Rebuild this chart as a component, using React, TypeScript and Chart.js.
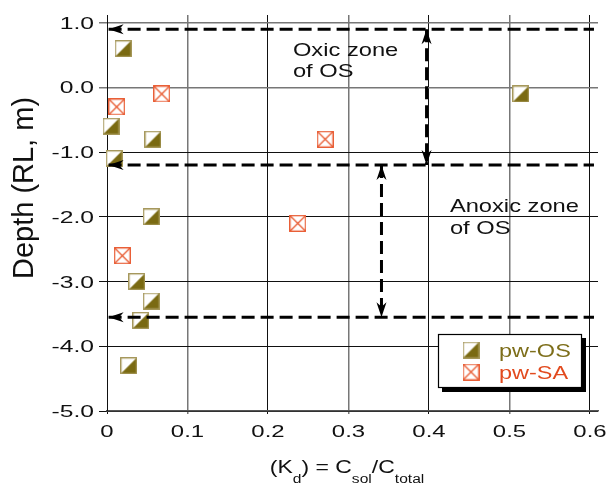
import React, { useEffect, useRef } from "react";
import { Chart, registerables } from "chart.js";

Chart.register(...registerables);

// ---- data ----
const xTicks = [0, 0.1, 0.2, 0.3, 0.4, 0.5, 0.6];
const xTickLabels = ["0", "0.1", "0.2", "0.3", "0.4", "0.5", "0.6"];
const yTicks = [1, 0, -1, -2, -3, -4, -5];
const yTickLabels = ["1.0", "0.0", "-1.0", "-2.0", "-3.0", "-4.0", "-5.0"];

const osX = [0.02, 0.005, 0.057, 0.009, 0.055, 0.037, 0.055, 0.042, 0.027, 0.514];
const osY = [0.6, -0.6, -0.8, -1.1, -2.0, -3.0, -3.3, -3.6, -4.3, -0.1];
const saX = [0.012, 0.068, 0.271, 0.237, 0.019];
const saY = [-0.3, -0.1, -0.8, -2.1, -2.6];

const seriesLabels = ["pw-OS", "pw-SA"];
const seriesColors = ["#7d6e1a", "#e24a1e"];

const zoneDepths = [0.9, -1.2, -3.55];
const zoneLineStartX = 0.002;
const zoneLineEndX = 0.605;
const oxicArrowX = 0.397;
const anoxicArrowX = 0.341;

const oxicLabel = ["Oxic zone", "of OS"];
const oxicLabelPos = { x: 0.231, y: 0.49 };
const anoxicLabel = ["Anoxic zone", "of OS"];
const anoxicLabelPos = { x: 0.426, y: -1.93 };

const FONT = '"Liberation Sans", Arial, Helvetica, sans-serif';

function makeOsMarker(): HTMLCanvasElement {
  const c = document.createElement("canvas");
  c.width = 17;
  c.height = 17;
  const g = c.getContext("2d")!;
  g.fillStyle = "#ffffff";
  g.fillRect(0, 0, 17, 17);
  g.fillStyle = "#7a6a12";
  g.beginPath();
  g.moveTo(16.5, 0.5);
  g.lineTo(16.5, 16.5);
  g.lineTo(0.5, 16.5);
  g.closePath();
  g.fill();
  g.strokeStyle = "#a39455";
  g.lineWidth = 1.3;
  g.strokeRect(0.7, 0.7, 15.6, 15.6);
  return c;
}

function makeSaMarker(): HTMLCanvasElement {
  const c = document.createElement("canvas");
  c.width = 17;
  c.height = 17;
  const g = c.getContext("2d")!;
  g.fillStyle = "#ffffff";
  g.fillRect(0, 0, 17, 17);
  g.strokeStyle = "#e8582e";
  g.lineWidth = 1.3;
  g.strokeRect(0.7, 0.7, 15.6, 15.6);
  g.beginPath();
  g.moveTo(1, 1);
  g.lineTo(16, 16);
  g.moveTo(16, 1);
  g.lineTo(1, 16);
  g.stroke();
  return c;
}

function drawText(
  ctx: CanvasRenderingContext2D,
  text: string,
  x: number,
  y: number,
  align: CanvasTextAlign,
  size: number,
  sx: number,
  color: string
) {
  ctx.save();
  ctx.font = `${size}px ${FONT}`;
  ctx.fillStyle = color;
  ctx.textAlign = align;
  ctx.textBaseline = "alphabetic";
  ctx.translate(x, y);
  ctx.scale(sx, 1);
  ctx.fillText(text, 0, 0);
  ctx.restore();
}

function drawArrowHead(
  ctx: CanvasRenderingContext2D,
  tx: number,
  ty: number,
  dx: number,
  dy: number
) {
  const L = 15;
  const W = 5;
  const N = 4.5;
  const px = -dy;
  const py = dx;
  ctx.save();
  ctx.fillStyle = "#000";
  ctx.beginPath();
  ctx.moveTo(tx, ty);
  ctx.lineTo(tx - dx * L + px * W, ty - dy * L + py * W);
  ctx.lineTo(tx - dx * (L - N), ty - dy * (L - N));
  ctx.lineTo(tx - dx * L - px * W, ty - dy * L - py * W);
  ctx.closePath();
  ctx.fill();
  ctx.restore();
}

export default function App() {
  const ref = useRef<HTMLCanvasElement | null>(null);

  useEffect(() => {
    document.body.style.margin = "0";
    const canvas = ref.current;
    if (!canvas) return;
    const osImg = makeOsMarker();
    const saImg = makeSaMarker();
    const markerImgs = [osImg, saImg];

    const dashStyle = {
      borderColor: "#000",
      borderWidth: 3,
      borderDash: [13, 6],
      pointRadius: 0,
      showLine: true,
      fill: false,
      type: "line" as const,
      order: 0,
    };

    const zoneDatasets = zoneDepths.map((d) => ({
      ...dashStyle,
      label: "zone",
      data: [
        { x: zoneLineStartX, y: d },
        { x: zoneLineEndX, y: d },
      ],
    }));

    const vertDatasets = [
      {
        ...dashStyle,
        label: "oxic",
        data: [
          { x: oxicArrowX, y: zoneDepths[0] },
          { x: oxicArrowX, y: zoneDepths[1] },
        ],
      },
      {
        ...dashStyle,
        label: "anoxic",
        data: [
          { x: anoxicArrowX, y: zoneDepths[1] },
          { x: anoxicArrowX, y: zoneDepths[2] },
        ],
      },
    ];

    const overlay = {
      id: "overlay",
      afterDatasetsDraw(chart: any) {
        const ctx: CanvasRenderingContext2D = chart.ctx;
        const xs = chart.scales.x;
        const ys = chart.scales.y;
        zoneDepths.forEach((d) => {
          drawArrowHead(ctx, xs.getPixelForValue(zoneLineStartX), ys.getPixelForValue(d), -1, 0);
        });
        drawArrowHead(ctx, xs.getPixelForValue(oxicArrowX), ys.getPixelForValue(zoneDepths[0]), 0, -1);
        drawArrowHead(ctx, xs.getPixelForValue(oxicArrowX), ys.getPixelForValue(zoneDepths[1]), 0, 1);
        drawArrowHead(ctx, xs.getPixelForValue(anoxicArrowX), ys.getPixelForValue(zoneDepths[1]), 0, -1);
        drawArrowHead(ctx, xs.getPixelForValue(anoxicArrowX), ys.getPixelForValue(zoneDepths[2]), 0, 1);
      },
      afterDraw(chart: any) {
        const ctx: CanvasRenderingContext2D = chart.ctx;
        const xs = chart.scales.x;
        const ys = chart.scales.y;

        xs.ticks.forEach((t: any, i: number) => {
          drawText(ctx, xTickLabels[i] ?? String(t.value), xs.getPixelForValue(t.value), 437, "center", 16.5, 1.45, "#111");
        });
        ys.ticks.forEach((t: any, i: number) => {
          drawText(ctx, yTickLabels[i] ?? String(t.value), 94, ys.getPixelForValue(t.value) + 6, "right", 17, 1.45, "#111");
        });

        const ox = xs.getPixelForValue(oxicLabelPos.x);
        const oy = ys.getPixelForValue(oxicLabelPos.y);
        oxicLabel.forEach((s, i) => drawText(ctx, s, ox, oy + i * 21, "left", 18.5, 1.28, "#111"));
        const ax = xs.getPixelForValue(anoxicLabelPos.x);
        const ay = ys.getPixelForValue(anoxicLabelPos.y);
        anoxicLabel.forEach((s, i) => drawText(ctx, s, ax, ay + i * 22, "left", 18.5, 1.28, "#111"));

        ctx.save();
        ctx.font = `29px ${FONT}`;
        ctx.fillStyle = "#111";
        ctx.textAlign = "center";
        ctx.textBaseline = "alphabetic";
        ctx.translate(33, 188);
        ctx.rotate(-Math.PI / 2);
        ctx.fillText("Depth (RL, m)", 0, 0);
        ctx.restore();

        const parts: [string, boolean][] = [
          ["(K", false],
          ["d", true],
          [") = C", false],
          ["sol", true],
          ["/C", false],
          ["total", true],
        ];
        const sx = 1.3;
        const mainSize = 17.7;
        const subSize = 12;
        let total = 0;
        const widths = parts.map(([s, sub]) => {
          ctx.font = `${sub ? subSize : mainSize}px ${FONT}`;
          const w = ctx.measureText(s).width * sx;
          total += w;
          return w;
        });
        let cx = 347 - total / 2;
        parts.forEach(([s, sub], i) => {
          drawText(ctx, s, cx, sub ? 483 : 473, "left", sub ? subSize : mainSize, sx, "#111");
          cx += widths[i];
        });

        // legend
        const lx = 438, ly = 334, lw = 144, lh = 54;
        ctx.save();
        ctx.fillStyle = "#000";
        ctx.fillRect(lx + 4, ly + 4, lw, lh);
        ctx.fillStyle = "#fff";
        ctx.fillRect(lx, ly, lw, lh);
        ctx.strokeStyle = "#000";
        ctx.lineWidth = 1.2;
        ctx.strokeRect(lx + 0.5, ly + 0.5, lw - 1, lh - 1);
        ctx.restore();
        seriesLabels.forEach((lab, i) => {
          const img = markerImgs[i];
          const cy = ly + 16 + i * 22;
          ctx.drawImage(img, 471 - img.width / 2, cy - img.height / 2);
          drawText(ctx, lab, 499, cy + 7, "left", 18.5, 1.27, seriesColors[i]);
        });
      },
    };

    const chart = new Chart(canvas, {
      type: "scatter",
      data: {
        datasets: [
          ...zoneDatasets,
          ...vertDatasets,
          {
            label: seriesLabels[0],
            data: osX.map((x, i) => ({ x, y: osY[i] })),
            pointStyle: osImg,
            pointRadius: 8,
            order: 2,
            clip: false,
          },
          {
            label: seriesLabels[1],
            data: saX.map((x, i) => ({ x, y: saY[i] })),
            pointStyle: saImg,
            pointRadius: 8,
            order: 1,
            clip: false,
          },
        ] as any,
      },
      options: {
        responsive: false,
        animation: false,
        devicePixelRatio: 1,
        layout: { padding: { left: 0, top: 15, right: 11, bottom: 0 } },
        plugins: {
          legend: { display: false },
          tooltip: { enabled: false },
        },
        events: [],
        scales: {
          x: {
            type: "linear",
            min: 0,
            max: 0.61,
            afterBuildTicks: (scale: any) => {
              scale.ticks = xTicks.map((v) => ({ value: v }));
            },
            afterFit: (scale: any) => {
              scale.height = 75;
            },
            ticks: { display: false },
            grid: {
              color: (c: any) => {
                const v = c.tick ? c.tick.value : 0;
                const k = Math.round(v * 10);
                return k % 2 === 1 ? "#777" : "#111";
              },
              lineWidth: (c: any) => {
                const v = c.tick ? c.tick.value : 0;
                return Math.round(v * 10) % 2 === 1 ? 1.5 : 1;
              },
              tickLength: 3,
            },
            border: { display: true, color: "#555", width: 1.5 },
          },
          y: {
            type: "linear",
            min: -5,
            max: 1.12,
            afterBuildTicks: (scale: any) => {
              scale.ticks = yTicks.map((v) => ({ value: v }));
            },
            afterFit: (scale: any) => {
              scale.width = 107;
            },
            ticks: { display: false },
            grid: {
              color: (c: any) => {
                const v = c.tick ? c.tick.value : 0;
                return v >= 0 ? "#777" : "#111";
              },
              lineWidth: (c: any) => {
                const v = c.tick ? c.tick.value : 0;
                return v >= 0 ? 1.5 : 1;
              },
              tickLength: 8,
            },
            border: { display: true, color: "#111", width: 1 },
          },
        },
      } as any,
      plugins: [overlay],
    });

    return () => chart.destroy();
  }, []);

  return (
    <div style={{ width: 609, height: 486 }}>
      <canvas ref={ref} width={609} height={486} style={{ width: 609, height: 486, display: "block" }} />
    </div>
  );
}
